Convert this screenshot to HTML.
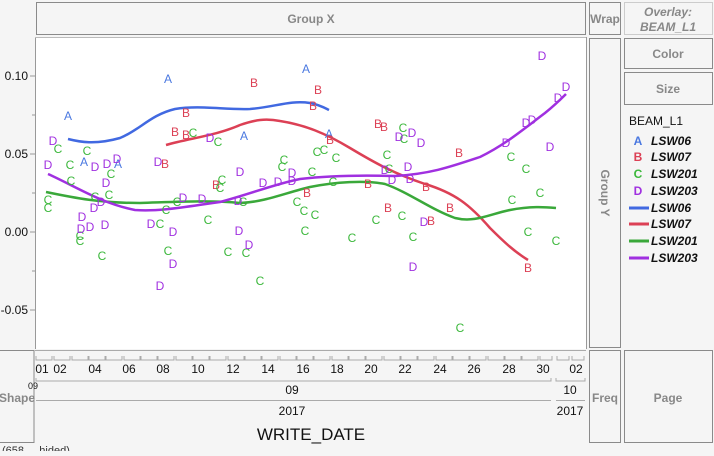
<!DOCTYPE html>
<html><head><meta charset="utf-8"><style>
body{margin:0;background:#f5f5f5;width:714px;height:451px;overflow:hidden;font-family:"Liberation Sans",sans-serif}
</style></head><body>
<svg width="714" height="451" xmlns="http://www.w3.org/2000/svg" font-family="Liberation Sans, sans-serif">
<rect width="714" height="451" fill="#f5f5f5"/>
<g fill="#f5f5f5" stroke="#8a8a8a" stroke-width="1">
<rect x="36.5" y="2.5" width="549" height="32"/>
<rect x="589.5" y="2.5" width="31" height="32"/>
<rect x="624.5" y="2.5" width="88" height="32" stroke="#ccc"/>
<rect x="589.5" y="38.5" width="31" height="309"/>
<rect x="624.5" y="38.5" width="88" height="30"/>
<rect x="624.5" y="72.5" width="88" height="32"/>
<rect x="-1" y="350.5" width="35" height="92"/>
<rect x="589.5" y="350.5" width="31" height="92"/>
<rect x="624.5" y="350.5" width="88" height="92"/>
</g>
<g fill="#888" font-size="12" font-weight="bold" text-anchor="middle">
<text x="311" y="23">Group X</text>
<text x="605" y="23">Wrap</text>
<text x="668" y="16" font-style="italic">Overlay:</text>
<text x="668" y="31" font-style="italic">BEAM_L1</text>
<text x="668" y="58">Color</text>
<text x="668" y="93">Size</text>
<text x="17" y="402">Shape</text>
<text x="605" y="402">Freq</text>
<text x="668" y="402">Page</text>
<text transform="translate(601,193) rotate(90)">Group Y</text>
</g>
<rect x="35" y="37" width="551" height="312" fill="#fff"/>
<line x1="35.5" y1="37" x2="35.5" y2="349" stroke="#999"/>
<line x1="586.5" y1="37" x2="586.5" y2="349" stroke="#999"/>
<line x1="35" y1="37.5" x2="586" y2="37.5" stroke="#bbb"/>
<g stroke="#999"><line x1="30" y1="76" x2="35" y2="76"/><line x1="30" y1="154" x2="35" y2="154"/><line x1="30" y1="232" x2="35" y2="232"/><line x1="30" y1="310" x2="35" y2="310"/>
<line x1="32" y1="115" x2="35" y2="115"/><line x1="32" y1="193" x2="35" y2="193"/><line x1="32" y1="271" x2="35" y2="271"/></g>
<g font-size="12" fill="#111" text-anchor="end"><text x="28" y="80">0.10</text><text x="28" y="158">0.05</text><text x="28" y="236">0.00</text><text x="28" y="314">-0.05</text></g>
<g fill="none" stroke-width="2.5">
<path stroke="#4169e1" d="M68,139 C80,142 95,145 120,138 C140,130 150,115 175,109 C200,105 225,110 250,109 C275,107 290,100 310,103 C320,105 325,108 329,110"/>
<path stroke="#dc4055" d="M166,145 C190,138 215,136 240,125 C255,120 265,118 280,121 C305,125 325,133 350,148 C375,163 395,174 425,184 C455,193 470,205 490,228 C505,243 515,252 528,260"/>
<path stroke="#3aa83a" d="M46,192 C75,198 100,203 140,203 C175,202 210,200 240,203 C265,202 285,193 310,187 C335,182 365,180 385,184 C410,193 430,209 455,218 C475,223 490,214 510,210 C530,206 545,207 556,208"/>
<path stroke="#a030e0" d="M48,174 C75,186 100,203 135,210 C160,212 190,206 220,202 C250,194 275,184 300,179 C325,176 360,175 395,176 C430,174 450,167 480,157 C505,145 525,128 545,113 C555,105 560,100 566,94"/>
</g>
<g font-size="12" text-anchor="middle">
<g fill="#4a78e0"><text x="68" y="120">A</text><text x="168" y="83">A</text><text x="306" y="73">A</text><text x="244" y="140">A</text><text x="84" y="166">A</text><text x="118" y="168">A</text><text x="329" y="138">A</text></g>
<g fill="#dc4055"><text x="254" y="87">B</text><text x="318" y="94">B</text><text x="313" y="110">B</text><text x="186" y="117">B</text><text x="175" y="136">B</text><text x="186" y="139">B</text><text x="330" y="144">B</text><text x="165" y="168">B</text><text x="216" y="189">B</text><text x="307" y="197">B</text><text x="378" y="128">B</text><text x="384" y="131">B</text><text x="459" y="157">B</text><text x="368" y="188">B</text><text x="426" y="191">B</text><text x="450" y="212">B</text><text x="388" y="212">B</text><text x="431" y="225">B</text><text x="528" y="272">B</text></g>
<g fill="#3cb83c"><text x="58" y="153">C</text><text x="87" y="155">C</text><text x="70" y="169">C</text><text x="71" y="185">C</text><text x="111" y="178">C</text><text x="48" y="204">C</text><text x="48" y="212">C</text><text x="95" y="201">C</text><text x="109" y="199">C</text><text x="80" y="240">C</text><text x="80" y="245">C</text><text x="102" y="260">C</text><text x="160" y="228">C</text><text x="166" y="214">C</text><text x="177" y="206">C</text><text x="168" y="255">C</text><text x="208" y="224">C</text><text x="220" y="192">C</text><text x="222" y="184">C</text><text x="228" y="256">C</text><text x="246" y="257">C</text><text x="260" y="285">C</text><text x="305" y="235">C</text><text x="315" y="219">C</text><text x="297" y="206">C</text><text x="282" y="171">C</text><text x="284" y="164">C</text><text x="317" y="156">C</text><text x="243" y="206">C</text><text x="193" y="137">C</text><text x="218" y="146">C</text><text x="324" y="154">C</text><text x="336" y="162">C</text><text x="312" y="176">C</text><text x="304" y="215">C</text><text x="403" y="132">C</text><text x="404" y="143">C</text><text x="387" y="159">C</text><text x="389" y="173">C</text><text x="333" y="186">C</text><text x="352" y="242">C</text><text x="413" y="241">C</text><text x="402" y="220">C</text><text x="376" y="224">C</text><text x="511" y="161">C</text><text x="526" y="173">C</text><text x="512" y="204">C</text><text x="540" y="197">C</text><text x="528" y="236">C</text><text x="556" y="245">C</text><text x="460" y="332">C</text></g>
<g fill="#a030e0"><text x="53" y="145">D</text><text x="210" y="142">D</text><text x="48" y="169">D</text><text x="95" y="171">D</text><text x="107" y="168">D</text><text x="117" y="163">D</text><text x="158" y="166">D</text><text x="106" y="187">D</text><text x="94" y="212">D</text><text x="101" y="206">D</text><text x="82" y="221">D</text><text x="81" y="233">D</text><text x="90" y="231">D</text><text x="105" y="229">D</text><text x="151" y="228">D</text><text x="173" y="236">D</text><text x="238" y="205">D</text><text x="183" y="202">D</text><text x="202" y="203">D</text><text x="240" y="176">D</text><text x="292" y="177">D</text><text x="292" y="185">D</text><text x="278" y="186">D</text><text x="263" y="187">D</text><text x="173" y="268">D</text><text x="160" y="290">D</text><text x="239" y="235">D</text><text x="249" y="249">D</text><text x="542" y="60">D</text><text x="566" y="91">D</text><text x="558" y="102">D</text><text x="526" y="127">D</text><text x="532" y="124">D</text><text x="506" y="147">D</text><text x="550" y="151">D</text><text x="412" y="137">D</text><text x="399" y="141">D</text><text x="421" y="147">D</text><text x="385" y="174">D</text><text x="408" y="171">D</text><text x="392" y="184">D</text><text x="410" y="183">D</text><text x="424" y="226">D</text><text x="413" y="271">D</text></g>
</g>
<line x1="35" y1="350.5" x2="586" y2="350.5" stroke="#aaa"/>
<g stroke="#aaa" fill="none">
<path d="M36,356 v4 h16 v-4 M54,356 v4 h16 v-4 M72,356 v4 h16 v-4 M89,356 v4 h16 v-4 M106,356 v4 h16 v-4 M124,356 v4 h16 v-4 M141,356 v4 h16 v-4 M158,356 v4 h16 v-4 M176,356 v4 h16 v-4 M193,356 v4 h16 v-4 M210,356 v4 h16 v-4 M228,356 v4 h16 v-4 M245,356 v4 h16 v-4 M262,356 v4 h16 v-4 M280,356 v4 h16 v-4 M297,356 v4 h16 v-4 M314,356 v4 h16 v-4 M332,356 v4 h16 v-4 M349,356 v4 h16 v-4 M366,356 v4 h16 v-4 M384,356 v4 h16 v-4 M401,356 v4 h16 v-4 M418,356 v4 h16 v-4 M436,356 v4 h16 v-4 M453,356 v4 h16 v-4 M470,356 v4 h16 v-4 M488,356 v4 h16 v-4 M505,356 v4 h16 v-4 M522,356 v4 h16 v-4 M540,356 v4 h12 v-4 M557,356 v4 h12 v-4 M572,356 v4 h12 v-4"/>
<path d="M36,378 v3 h515 v-3 M556,378 v3 h29 v-3 M36,400.5 h515 M556,400.5 h29"/>
</g>
<g font-size="12" fill="#111" text-anchor="middle">
<text x="42" y="373">01</text><text x="60" y="373">02</text><text x="95" y="373">04</text><text x="129" y="373">06</text><text x="163" y="373">08</text><text x="198" y="373">10</text><text x="233" y="373">12</text><text x="268" y="373">14</text><text x="303" y="373">16</text><text x="337" y="373">18</text><text x="371" y="373">20</text><text x="405" y="373">22</text><text x="440" y="373">24</text><text x="474" y="373">26</text><text x="509" y="373">28</text><text x="543" y="373">30</text><text x="576" y="373">02</text>
<text x="292" y="394">09</text><text x="570" y="394">10</text>
<text x="292" y="415">2017</text><text x="570" y="415">2017</text>
<text x="33" y="389" font-size="9">09</text>
<text x="311" y="440" font-size="17">WRITE_DATE</text>
</g>
<text x="2" y="454" font-size="11" fill="#333">(658 ... hided)</text>
<g font-size="12">
<text x="629" y="125" fill="#111">BEAM_L1</text>
<g font-weight="bold" font-style="italic" fill="#111">
<text x="651" y="145">LSW06</text><text x="651" y="161">LSW07</text><text x="651" y="178">LSW201</text><text x="651" y="195">LSW203</text>
<text x="651" y="212">LSW06</text><text x="651" y="228">LSW07</text><text x="651" y="245">LSW201</text><text x="651" y="262">LSW203</text></g>
<g font-weight="bold" text-anchor="middle"><text x="638" y="145" fill="#4a78e0">A</text><text x="638" y="161" fill="#dc4055">B</text><text x="638" y="178" fill="#3cb83c">C</text><text x="638" y="195" fill="#a030e0">D</text></g>
<g stroke-width="3"><line x1="629" y1="208" x2="649" y2="208" stroke="#4169e1"/><line x1="629" y1="224" x2="649" y2="224" stroke="#dc4055"/><line x1="629" y1="241" x2="649" y2="241" stroke="#3aa83a"/><line x1="629" y1="258" x2="649" y2="258" stroke="#a030e0"/></g>
</g>
</svg>
</body></html>
